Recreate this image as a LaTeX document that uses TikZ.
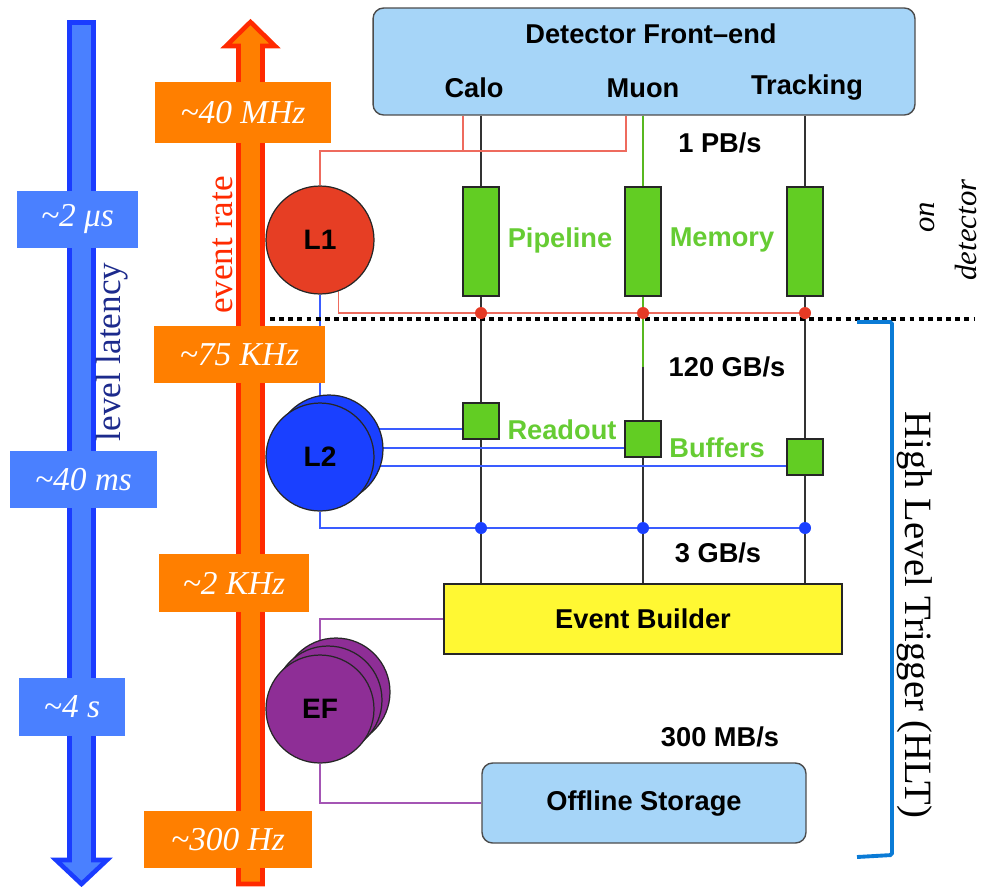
\documentclass[tikz,border=0pt]{standalone}
\usepackage{fontspec}
\setmainfont{Liberation Serif}
\setsansfont{Liberation Sans}
\usepackage{tikz}
\usetikzlibrary{backgrounds}
\definecolor{latblue}{HTML}{4A80FF}
\definecolor{latedge}{HTML}{1A3CFF}
\definecolor{rateorange}{HTML}{FF7F00}
\definecolor{ratered}{HTML}{FF2A00}
\definecolor{navytext}{HTML}{1C2A8C}
\definecolor{skyfill}{HTML}{A6D5F8}
\definecolor{pipegreen}{HTML}{62CD23}
\definecolor{textgreen}{HTML}{66CC33}
\definecolor{l1red}{HTML}{E63E24}
\definecolor{linered}{HTML}{EE6B5E}
\definecolor{dotred}{HTML}{E53A25}
\definecolor{l2blue}{HTML}{1A40FF}
\definecolor{lineblue}{HTML}{3A5CFF}
\definecolor{efpurple}{HTML}{8E2E96}
\definecolor{linepurple}{HTML}{A455B4}
\definecolor{ebyellow}{HTML}{FFF833}
\definecolor{hltblue}{HTML}{0A7BD6}

\begin{document}
\begin{tikzpicture}[x=0.02cm,y=-0.02cm,
	sans/.style={font=\sffamily\bfseries\fontsize{15.5}{18}\selectfont},
	gtext/.style={text=textgreen,font=\sffamily\bfseries\fontsize{15.5}{18}\selectfont},
	febox/.style={draw=black!70,fill=skyfill,rounded corners=6pt,line width=0.8pt},
	ebbox/.style={draw=black!85,fill=ebyellow,line width=0.8pt,font=\sffamily\bfseries\fontsize{15.5}{18}\selectfont},
	pipe/.style={draw=black!85,fill=pipegreen,minimum width=0.72cm,minimum height=2.18cm,inner sep=0pt,line width=0.9pt},
	rob/.style={draw=black!85,fill=pipegreen,minimum size=0.72cm,inner sep=0pt,line width=0.9pt},
	lvl/.style={circle,draw=black!85,minimum size=2.16cm,inner sep=0pt,line width=0.7pt,font=\sffamily\bfseries\fontsize{16}{18}\selectfont},
	rdot/.style={circle,fill=dotred,minimum size=0.24cm,inner sep=0pt},
	bdot/.style={circle,fill=l2blue,minimum size=0.24cm,inner sep=0pt},
	latbox/.style={fill=latblue,text=white,inner sep=0pt,minimum height=1.14cm,font=\itshape\fontsize{19}{22}\selectfont},
	ratebox/.style={fill=rateorange,text=white,inner sep=0pt,minimum height=1.14cm,font=\itshape\fontsize{19}{22}\selectfont},
	kline/.style={draw=black!80,line width=0.85pt},
	gline/.style={draw=pipegreen!90!black,line width=1pt},
	rline/.style={draw=linered,line width=0.9pt},
	bline/.style={draw=lineblue,line width=1.4pt},
	pline/.style={draw=linepurple,line width=0.9pt},
	dotline/.style={draw=black,line width=2.8pt,dash pattern=on 2.8pt off 2.4pt},
	hltline/.style={draw=hltblue,line width=2.2pt,rounded corners=1pt}]
	
	\useasboundingbox (0,0) rectangle (982,886);
	
	\draw[fill=latblue,draw=latedge,line width=2.6pt] (69.5,22.5) -- (93.5,22.5) -- (93.5,860) -- (107,860) -- (81.5,884) -- (56,860) -- (69.5,860) -- cycle;
	\draw[fill=rateorange,draw=ratered,line width=2.6pt] (238.5,884) -- (238.5,46) -- (226,46) -- (250.5,22) -- (275,46) -- (262.5,46) -- (262.5,884) -- cycle;
	
	\node[latbox,minimum width=2.42cm] (lt1) at (77.5,219.5) {\textasciitilde2 μs};
	\node[latbox,minimum width=2.94cm] (lt2) at (83.5,479.5) {\textasciitilde40 ms};
	\node[latbox,minimum width=2.12cm,minimum height=1.16cm] (lt3) at (72,707) {\textasciitilde4 s};
	\node[ratebox,minimum width=3.52cm,minimum height=1.22cm] (rt1) at (243,112.5) {\textasciitilde40 MHz};
	\node[ratebox,minimum width=3.42cm] (rt2) at (239.5,354.5) {\textasciitilde75 KHz};
	\node[ratebox,minimum width=3cm,minimum height=1.16cm] (rt3) at (234,583) {\textasciitilde2 KHz};
	\node[ratebox,minimum width=3.36cm] (rt4) at (228,839.5) {\textasciitilde300 Hz};
	
	\node[rotate=90,text=navytext,font=\fontsize{20}{24}\selectfont] (latlab) at (112,352) {level latency};
	\node[rotate=90,text=ratered,font=\fontsize{20}{24}\selectfont] (ratelab) at (223,245) {event rate};
	\node[rotate=-90,font=\fontsize{22}{26}\selectfont] (hltlab) at (915,615) {High Level Trigger (HLT)};
	\node[rotate=90,font=\itshape\fontsize{17.5}{20}\selectfont] (onlab) at (927,217) {on};
	\node[rotate=90,font=\itshape\fontsize{17.5}{20}\selectfont] (detlab) at (966,230) {detector};
	
	\node[febox,minimum width=10.84cm,minimum height=2.14cm] (fe) at (644,61.5) {};
	\node[sans] (fetitle) at (651,34) {Detector Front--end};
	\node[sans] (calo) at (474,88) {Calo};
	\node[sans] (muon) at (643,88) {Muon};
	\node[sans] (trk) at (807,88) {Tracking};
	
	\node[pipe] (p1) at (481,241.5) {};
	\node[pipe] (p2) at (643,241.5) {};
	\node[pipe] (p3) at (805,241.5) {};
	\node[gtext] (pipelab) at (560,240) {Pipeline};
	\node[gtext] (memlab) at (722,240) {Memory};
	\node[sans] (bw1) at (720,143) {1 PB/s};
	
	\node[lvl,fill=l1red] (l1) at (320,240) {L1};
	
	\node[rdot] (d1) at (481,313) {};
	\node[rdot] (d2) at (643,313) {};
	\node[rdot] (d3) at (805,313) {};
	
	\node[rob] (r1) at (481,421) {};
	\node[rob] (r2) at (643,439) {};
	\node[rob] (r3) at (805,457) {};
	\node[gtext] (rolab) at (562,430) {Readout};
	\node[gtext] (buflab) at (717,448) {Buffers};
	\node[sans] (bw2) at (727,367) {120 GB/s};
	
	\node[lvl,fill=l2blue] (l2b) at (329,449) {};
	\node[lvl,fill=l2blue] (l2) at (320,457) {L2};
	
	\node[bdot] (b1) at (481,528) {};
	\node[bdot] (b2) at (643,528) {};
	\node[bdot] (b3) at (805,528) {};
	\node[sans] (bw3) at (718,553) {3 GB/s};
	
	\node[ebbox,minimum width=7.96cm,minimum height=1.4cm] (eb) at (643,619) {Event Builder};
	
	\node[lvl,fill=efpurple] (ef3) at (336,692) {};
	\node[lvl,fill=efpurple] (ef2) at (328,700) {};
	\node[lvl,fill=efpurple] (ef) at (320,709) {EF};
	
	\node[sans] (bw4) at (720,737) {300 MB/s};
	\node[febox,sans,minimum width=6.48cm,minimum height=1.6cm] (os) at (644,803) {Offline Storage};
	
	\coordinate (ra) at (463,151);
	\coordinate (rb) at (626,151);
	\coordinate (gend) at (643,367);
	\coordinate (dl) at (270,319);
	\coordinate (dr) at (975,319);
	\coordinate (w1) at (463,429);
	\coordinate (w2) at (625,448);
	\coordinate (w3) at (787,466);
	
	\begin{scope}[on background layer]
		\draw[kline] (fe.south -| p1) -- (eb.north -| p1);
		\draw[kline] (fe.south -| p2) -- (eb.north -| p2);
		\draw[kline] (fe.south -| p3) -- (eb.north -| p3);
		\draw[gline] (fe.south -| p2) -- (p2.north);
		\draw[gline] (p2.south) -- (gend);
		\draw[rline] (l1.north) |- (rb) -- (rb |- fe.south);
		\draw[rline] (ra) -- (ra |- fe.south);
		\draw[rline] (l1.-70) |- (d3);
		\draw[bline] (l1) -- (l2);
		\draw[bline] (w1) -- (w1 -| l2);
		\draw[bline] (w2) -- (w2 -| l2);
		\draw[bline] (w3) -- (w3 -| l2);
		\draw[bline] (l2) |- (b3);
		\draw[pline] (eb.west) -| (ef);
		\draw[pline] (os.west) -| (ef);
		\draw[dotline] (dl) -- (dr);
	\end{scope}
	
	\draw[hltline] (857,322) -- (892,322) -- (892,855) -- (857,857);
	
\end{tikzpicture}
\end{document}
